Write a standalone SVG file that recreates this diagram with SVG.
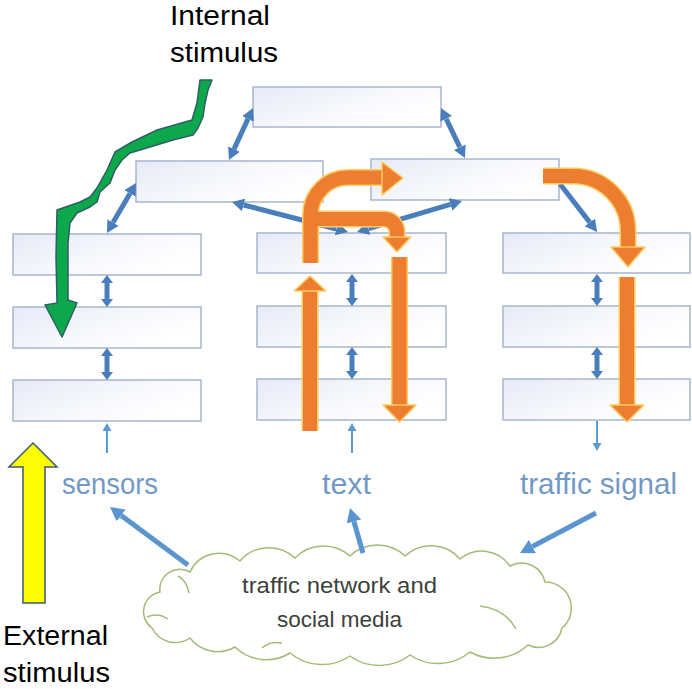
<svg xmlns="http://www.w3.org/2000/svg" width="692" height="689" viewBox="0 0 692 689">
<defs>
<linearGradient id="bg" x1="0" y1="0" x2="1" y2="0.6">
<stop offset="0" stop-color="#E6EAF6"/>
<stop offset="0.6" stop-color="#F8F9FD"/>
<stop offset="1" stop-color="#FFFFFF"/>
</linearGradient>
<marker id="hb" viewBox="0 0 12 13" refX="0" refY="6.5" markerWidth="12" markerHeight="13" markerUnits="userSpaceOnUse" orient="auto-start-reverse"><path d="M0,0 L12,6.5 L0,13 Z" fill="#4A7EBB"/></marker>
<marker id="hs" viewBox="0 0 8 12" refX="0" refY="6" markerWidth="8" markerHeight="12" markerUnits="userSpaceOnUse" orient="auto-start-reverse"><path d="M0,0 L8,6 L0,12 Z" fill="#4A7EBB"/></marker>
<marker id="ht" viewBox="0 0 8 9" refX="0" refY="4.5" markerWidth="8" markerHeight="9" markerUnits="userSpaceOnUse" orient="auto"><path d="M0,0 L8,4.5 L0,9 Z" fill="#5B9BD5"/></marker>
<marker id="hc" viewBox="0 0 14 15" refX="0" refY="7.5" markerWidth="14" markerHeight="15" markerUnits="userSpaceOnUse" orient="auto"><path d="M0,0 L14,7.5 L0,15 Z" fill="#5B95D0"/></marker>
</defs>
<style>
.box{fill:url(#bg);stroke:#A7B6CA;stroke-width:1.5}
.ba{fill:none;stroke:#4A7EBB;stroke-width:5}
.bs{fill:none;stroke:#4A7EBB;stroke-width:5;marker-start:url(#hs);marker-end:url(#hs)}
.bt{fill:none;stroke:#5B9BD5;stroke-width:2;marker-end:url(#ht)}
.bc{fill:none;stroke:#5B95D0;stroke-width:5;marker-end:url(#hc)}
.og{fill:none;stroke:#FFCB5C;stroke-width:17}
.oc{fill:none;stroke:#ED7D31;stroke-width:14}
.oh{fill:#ED7D31;stroke:#FFCB5C;stroke-width:1.5;stroke-linejoin:round}
.lab{font-family:"Liberation Sans",Arial,sans-serif;font-size:30px;fill:#7299C6}
.blk{font-family:"Liberation Sans",Arial,sans-serif;font-size:27px;fill:#000000}
.cl{font-family:"Liberation Sans",Arial,sans-serif;font-size:22px;fill:#3C423A}
</style>
<rect width="692" height="689" fill="#FFFFFF"/>

<g id="box-top"><rect class="box" x="253" y="87" width="188" height="40"/></g>
<g id="box-mid-left"><rect class="box" x="136" y="161" width="187" height="41"/></g>
<g id="box-mid-right"><rect class="box" x="371" y="159" width="188" height="41"/></g>
<g id="box-l1"><rect class="box" x="13" y="234" width="188" height="41"/></g>
<g id="box-l2"><rect class="box" x="13" y="307" width="188" height="41"/></g>
<g id="box-l3"><rect class="box" x="13" y="380" width="188" height="41"/></g>
<g id="box-m1"><rect class="box" x="257" y="233" width="189" height="40"/></g>
<g id="box-m2"><rect class="box" x="257" y="306" width="189" height="41"/></g>
<g id="box-m3"><rect class="box" x="257" y="379" width="189" height="41"/></g>
<g id="box-r1"><rect class="box" x="503" y="233" width="187" height="40"/></g>
<g id="box-r2"><rect class="box" x="503" y="306" width="187" height="41"/></g>
<g id="box-r3"><rect class="box" x="503" y="379" width="187" height="41"/></g>

<g id="cloud">
<path d="M152,628 A20,20 0 0 1 160,592 A20,20 0 0 1 190,572 A32,32 0 0 1 240,561 A38,38 0 0 1 295,558 A40,40 0 0 1 350,556 A40,40 0 0 1 405,556 A38,38 0 0 1 460,559 A34,34 0 0 1 510,566 A24,24 0 0 1 545,582 A26,26 0 0 1 562,628 A24,24 0 0 1 528,645 A50,50 0 0 1 470,652 A50,50 0 0 1 410,655 A50,50 0 0 1 350,656 A50,50 0 0 1 290,653 A45,45 0 0 1 235,647 A35,35 0 0 1 190,638 A26,26 0 0 1 152,628 Z" fill="#FFFFFF" stroke="#A3BB76" stroke-width="1.5"/>
<path d="M178,576 Q187,581 189,593 M147,617 Q158,612 168,619 M480,606 Q505,609 516,629 M262,648 Q270,641 282,643" fill="none" stroke="#A3BB76" stroke-width="1.5"/>
<text class="cl" x="339.5" y="593" text-anchor="middle" textLength="195" lengthAdjust="spacingAndGlyphs">traffic network and</text>
<text class="cl" x="339.5" y="627" text-anchor="middle" textLength="125" lengthAdjust="spacingAndGlyphs">social media</text>
</g>

<g id="label-sensors"><text class="lab" x="62" y="494" textLength="96" lengthAdjust="spacingAndGlyphs">sensors</text></g>
<g id="label-text"><text class="lab" x="322" y="494" textLength="49" lengthAdjust="spacingAndGlyphs">text</text></g>
<g id="label-traffic-signal"><text class="lab" x="520" y="494" textLength="157" lengthAdjust="spacingAndGlyphs">traffic signal</text></g>

<g id="label-internal">
<text class="blk" x="170" y="25" textLength="100" lengthAdjust="spacingAndGlyphs">Internal</text>
<text class="blk" x="170" y="62" textLength="108" lengthAdjust="spacingAndGlyphs">stimulus</text>
</g>
<g id="label-external">
<text class="blk" x="3" y="645" textLength="105" lengthAdjust="spacingAndGlyphs">External</text>
<text class="blk" x="3" y="682" textLength="107" lengthAdjust="spacingAndGlyphs">stimulus</text>
</g>

<g id="connectors">
<path class="ba" d="M248,118.9 L234,149.1" marker-start="url(#hb)" marker-end="url(#hb)"/>
<path class="ba" d="M446.2,118.8 L459.8,147.2" marker-start="url(#hb)" marker-end="url(#hb)"/>
<path class="ba" d="M130,193.4 L113,222.6" marker-start="url(#hb)" marker-end="url(#hb)"/>
<path class="ba" d="M560,184 L589.8,222.4" marker-end="url(#hb)"/>
<path class="ba" d="M243.6,205 L336.4,229" marker-start="url(#hb)" marker-end="url(#hb)"/>
<path class="ba" d="M368.5,228.6 L450.5,204.4" marker-start="url(#hb)" marker-end="url(#hb)"/>
<path class="bs" d="M107,283 V299"/>
<path class="bs" d="M107,356 V372"/>
<path class="bs" d="M352,282 V298"/>
<path class="bs" d="M352,355 V371"/>
<path class="bs" d="M597,282 V298"/>
<path class="bs" d="M597,355 V371"/>
<path class="bt" d="M107,453 V431"/>
<path class="bt" d="M352,453 V431"/>
<path class="bt" d="M597,421 V443"/>
<path class="bc" d="M188,565 L121.2,515.4"/>
<path class="bc" d="M363,553 L353.9,521.5"/>
<path class="bc" d="M596,513 L532.4,546.5"/>
</g>

<g id="orange-arrows">
<path class="og" d="M310,431 V290"/><path class="oc" d="M310,431 V290"/>
<polygon class="oh" points="294,291 326,291 310,276"/>
<path class="og" d="M310.5,263 V215 A37.5,37.5 0 0 1 348,177.5 H383"/><path class="oc" d="M310.5,263 V215 A37.5,37.5 0 0 1 348,177.5 H383"/>
<polygon class="oh" points="382,162 403,178 382,195"/>
<path class="og" d="M318,219 H384 A13,13 0 0 1 397,232 V238"/><path class="oc" d="M317,219 H384 A13,13 0 0 1 397,232 V238"/>
<polygon class="oh" points="383,237 411,237 397,252"/>
<path class="og" d="M399.5,257 V406"/><path class="oc" d="M399.5,257 V406"/>
<polygon class="oh" points="383,405 416,405 399.5,422"/>
<path class="og" d="M543,176 H573 A55,55 0 0 1 628,231 V248"/><path class="oc" d="M543,176 H573 A55,55 0 0 1 628,231 V248"/>
<polygon class="oh" points="611,247 645,247 628,267"/>
<path class="og" d="M627,277 V406"/><path class="oc" d="M627,277 V406"/>
<polygon class="oh" points="610,405 644,405 627,422"/>
</g>

<g id="green-arrow">
<polygon points="212,80 208,90 205,103 203,117 198,128 193,135 173,140 150,147 130,153 122,160 115,170 110,183 100,192 97,202 90,207 77,213 70,223 68,243 68,300 77,303 62,337 45,305 57,303 56,257 57,210 80,202 90,197 97,188 107,170 115,152 132,142 157,130 192,120 197,103 200,80" fill="#0DA84B" stroke="#2D5E66" stroke-width="1.5" stroke-linejoin="round"/>
</g>

<g id="yellow-arrow">
<polygon points="33,443 57,467 45,467 45,603 23,603 23,467 9,467" fill="#FFFF00" stroke="#3C5A78" stroke-width="1.5"/>
</g>
</svg>
